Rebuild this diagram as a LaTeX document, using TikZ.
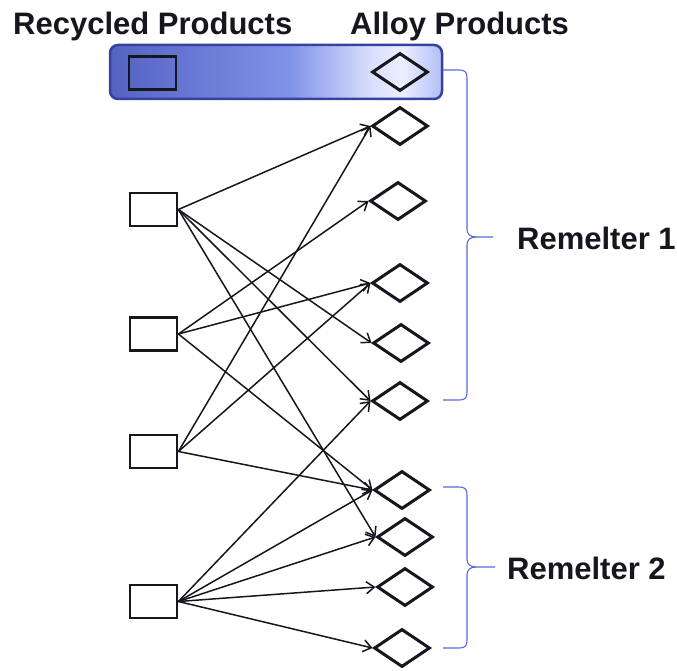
\documentclass[tikz,border=0pt]{standalone}
\usepackage{fontspec}
\setmainfont{Liberation Sans}
\usetikzlibrary{shapes.geometric,arrows.meta}
\definecolor{hdA}{RGB}{84,98,194}
\definecolor{hdB}{RGB}{128,146,232}
\definecolor{hdC}{RGB}{214,221,252}
\definecolor{hdD}{RGB}{236,239,255}
\definecolor{hdE}{RGB}{178,190,245}
\definecolor{hdborder}{RGB}{55,66,158}
\definecolor{bracecol}{RGB}{85,105,220}
\definecolor{ink}{RGB}{22,22,30}
\pgfdeclarehorizontalshading{hdrshade}{100bp}{color(0bp)=(hdA); color(25bp)=(hdA); color(52bp)=(hdB); color(64bp)=(hdC); color(69bp)=(hdD); color(75bp)=(hdE); color(100bp)=(hdE)}
\tikzset{
  hdrbox/.style={draw=hdborder, line width=2.5pt, rounded corners=8pt, shading=hdrshade, minimum width=332pt, minimum height=54pt, inner sep=0pt},
  recbox/.style={draw=ink, line width=2.8pt, minimum width=47pt, minimum height=33pt, inner sep=0pt},
  alloy/.style={draw=ink, diamond, line width=3pt, minimum width=56pt, minimum height=38pt, inner sep=0pt},
  flow/.style={draw=ink, line width=1.5pt, -{Straight Barb[length=8pt,width=12pt,line width=1.5pt]}},
  brace/.style={draw=bracecol, line width=1.1pt},
  lbl/.style={font=\fontsize{31}{34}\selectfont\bfseries, text=ink, inner sep=0pt}
}
\begin{document}
\begin{tikzpicture}[x=1pt,y=-1pt]
\useasboundingbox (0,0) rectangle (677,671);
% headers
\node[lbl, anchor=base west] (hrec) at (13,35) {Recycled Products};
\node[lbl, anchor=base west] (hall) at (350,35) {Alloy Products};
% header box
\node[hdrbox] (hdr) at (276,72) {};
\node[recbox] (hr) at (152.5,73) {};
\node[alloy] (hd) at (400,72) {};
% recycled products
\node[recbox] (r1) at (153.5,209.5) {};
\node[recbox] (r2) at (153.5,334) {};
\node[recbox] (r3) at (153.5,451.5) {};
\node[recbox] (r4) at (153.5,601.5) {};
% alloy products
\node[alloy] (d1) at (400,126) {};
\node[alloy] (d2) at (398,201) {};
\node[alloy] (d3) at (400,283) {};
\node[alloy] (d4) at (401,343) {};
\node[alloy] (d5) at (400,401) {};
\node[alloy] (d6) at (402,490) {};
\node[alloy] (d7) at (405,537) {};
\node[alloy] (d8) at (405,587) {};
\node[alloy] (d9) at (402,648) {};
% flows
\foreach \s/\t in {r1/d1,r1/d4,r1/d5,r1/d7,r2/d2,r2/d3,r2/d6,r3/d1,r3/d3,r3/d6,r4/d5,r4/d6,r4/d7,r4/d8,r4/d9}
  \draw[flow] (\s.east) -- (\t.west);
% braces
\coordinate (b1t) at (443,70);
\coordinate (b1b) at (443,400);
\coordinate (b1m) at (493,237);
\coordinate (b2t) at (443,487);
\coordinate (b2b) at (443,648);
\coordinate (b2m) at (495,567);
\draw[brace] (b1t) -- (459,70) .. controls (465,70) and (467,72) .. (467,78) -- (467,229) .. controls (467,234) and (470,237) .. (476,237) -- (b1m);
\draw[brace] (b1b) -- (459,400) .. controls (465,400) and (467,398) .. (467,392) -- (467,245) .. controls (467,240) and (470,237) .. (476,237);
\draw[brace] (b2t) -- (459,487) .. controls (465,487) and (467,489) .. (467,495) -- (467,559) .. controls (467,564) and (470,567) .. (476,567) -- (b2m);
\draw[brace] (b2b) -- (459,648) .. controls (465,648) and (467,646) .. (467,640) -- (467,575) .. controls (467,570) and (470,567) .. (476,567);
% labels
\node[lbl, anchor=west] (rm1) at (517,238) {Remelter 1};
\node[lbl, anchor=west] (rm2) at (507,568) {Remelter 2};
\end{tikzpicture}
\end{document}
